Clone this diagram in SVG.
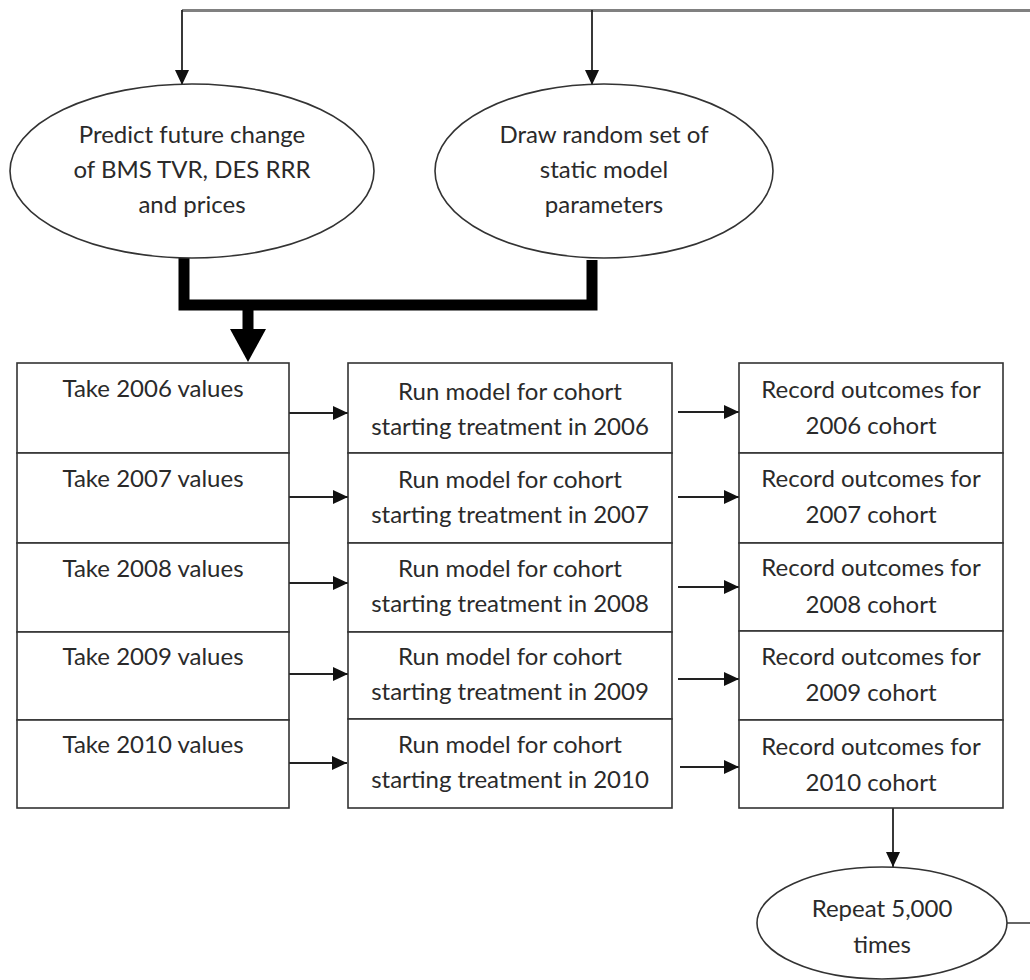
<svg xmlns="http://www.w3.org/2000/svg" width="1030" height="980" viewBox="0 0 1030 980">
<defs>
<style>
.box{fill:#fff;stroke:#333;stroke-width:1.6}
.ell{fill:#fff;stroke:#333;stroke-width:1.6}
.t{font-family:Lato,"Open Sans","Liberation Sans",sans-serif;font-size:24px;fill:#2a2a2a;text-anchor:middle}
.c{fill:none;stroke:#222;stroke-width:1.8}
.g{fill:none;stroke:#808080;stroke-width:3}
</style>
<marker id="ah" viewBox="0 0 15 14" refX="15" refY="7" markerWidth="15" markerHeight="14" markerUnits="userSpaceOnUse" orient="auto">
<path d="M0,0 L15,7 L0,14 Z" fill="#111"/>
</marker>
</defs>
<rect width="1030" height="980" fill="#fff"/>
<g id="connectors">
<line class="g" x1="182" y1="10.5" x2="1030" y2="10.5"/>
<line class="c" x1="182" y1="10" x2="182" y2="85" marker-end="url(#ah)"/>
<line class="c" x1="592" y1="10" x2="592" y2="85" marker-end="url(#ah)"/>
<path d="M184,258 V305 H592 V260" fill="none" stroke="#000" stroke-width="11"/>
<rect x="242.5" y="305" width="11" height="26" fill="#000"/>
<path d="M230,329 L266,329 L248,362 Z" fill="#000"/>
<line class="c" x1="289" y1="413" x2="348" y2="413" marker-end="url(#ah)"/>
<line class="c" x1="289" y1="497" x2="348" y2="497" marker-end="url(#ah)"/>
<line class="c" x1="289" y1="583" x2="348" y2="583" marker-end="url(#ah)"/>
<line class="c" x1="289" y1="674" x2="348" y2="674" marker-end="url(#ah)"/>
<line class="c" x1="287" y1="763" x2="347" y2="763" marker-end="url(#ah)"/>
<line class="c" x1="678" y1="412" x2="739" y2="412" marker-end="url(#ah)"/>
<line class="c" x1="678" y1="497" x2="739" y2="497" marker-end="url(#ah)"/>
<line class="c" x1="678" y1="587" x2="739" y2="587" marker-end="url(#ah)"/>
<line class="c" x1="678" y1="679" x2="739" y2="679" marker-end="url(#ah)"/>
<line class="c" x1="680" y1="767" x2="739" y2="767" marker-end="url(#ah)"/>
<line class="c" x1="893" y1="808" x2="893" y2="867" marker-end="url(#ah)"/>
<line x1="1007" y1="923" x2="1030" y2="923" stroke="#555" stroke-width="1.8"/>
</g>
<g id="predict">
<ellipse class="ell" cx="192" cy="171" rx="182" ry="87"/>
<text class="t" x="192" y="143">Predict future change</text>
<text class="t" x="192" y="178">of BMS TVR, DES RRR</text>
<text class="t" x="192" y="213">and prices</text>
</g>
<g id="draw">
<ellipse class="ell" cx="604" cy="171" rx="169" ry="87"/>
<text class="t" x="604" y="143">Draw random set of</text>
<text class="t" x="604" y="178">static model</text>
<text class="t" x="604" y="213">parameters</text>
</g>
<g id="take">
<rect class="box" x="17" y="363" width="272" height="90"/>
<rect class="box" x="17" y="453" width="272" height="90"/>
<rect class="box" x="17" y="543" width="272" height="89"/>
<rect class="box" x="17" y="632" width="272" height="88"/>
<rect class="box" x="17" y="720" width="272" height="88"/>
<text class="t" x="153" y="397">Take 2006 values</text>
<text class="t" x="153" y="487">Take 2007 values</text>
<text class="t" x="153" y="577">Take 2008 values</text>
<text class="t" x="153" y="665">Take 2009 values</text>
<text class="t" x="153" y="753">Take 2010 values</text>
</g>
<g id="run">
<rect class="box" x="348" y="363" width="324" height="90"/>
<rect class="box" x="348" y="453" width="324" height="90"/>
<rect class="box" x="348" y="543" width="324" height="89"/>
<rect class="box" x="348" y="632" width="324" height="87"/>
<rect class="box" x="348" y="719" width="324" height="89"/>
<text class="t" x="510" y="400">Run model for cohort</text>
<text class="t" x="510" y="435">starting treatment in 2006</text>
<text class="t" x="510" y="488">Run model for cohort</text>
<text class="t" x="510" y="523">starting treatment in 2007</text>
<text class="t" x="510" y="577">Run model for cohort</text>
<text class="t" x="510" y="612">starting treatment in 2008</text>
<text class="t" x="510" y="665">Run model for cohort</text>
<text class="t" x="510" y="700">starting treatment in 2009</text>
<text class="t" x="510" y="753">Run model for cohort</text>
<text class="t" x="510" y="788">starting treatment in 2010</text>
</g>
<g id="record">
<rect class="box" x="739" y="363" width="264" height="90"/>
<rect class="box" x="739" y="453" width="264" height="90"/>
<rect class="box" x="739" y="543" width="264" height="88"/>
<rect class="box" x="739" y="631" width="264" height="89"/>
<rect class="box" x="739" y="720" width="264" height="88"/>
<text class="t" x="871" y="398">Record outcomes for</text>
<text class="t" x="871" y="434">2006 cohort</text>
<text class="t" x="871" y="487">Record outcomes for</text>
<text class="t" x="871" y="523">2007 cohort</text>
<text class="t" x="871" y="576">Record outcomes for</text>
<text class="t" x="871" y="613">2008 cohort</text>
<text class="t" x="871" y="665">Record outcomes for</text>
<text class="t" x="871" y="701">2009 cohort</text>
<text class="t" x="871" y="755">Record outcomes for</text>
<text class="t" x="871" y="791">2010 cohort</text>
</g>
<g id="repeat">
<ellipse class="ell" cx="882" cy="923" rx="125" ry="56"/>
<text class="t" x="882" y="917">Repeat 5,000</text>
<text class="t" x="882" y="953">times</text>
</g>
</svg>
